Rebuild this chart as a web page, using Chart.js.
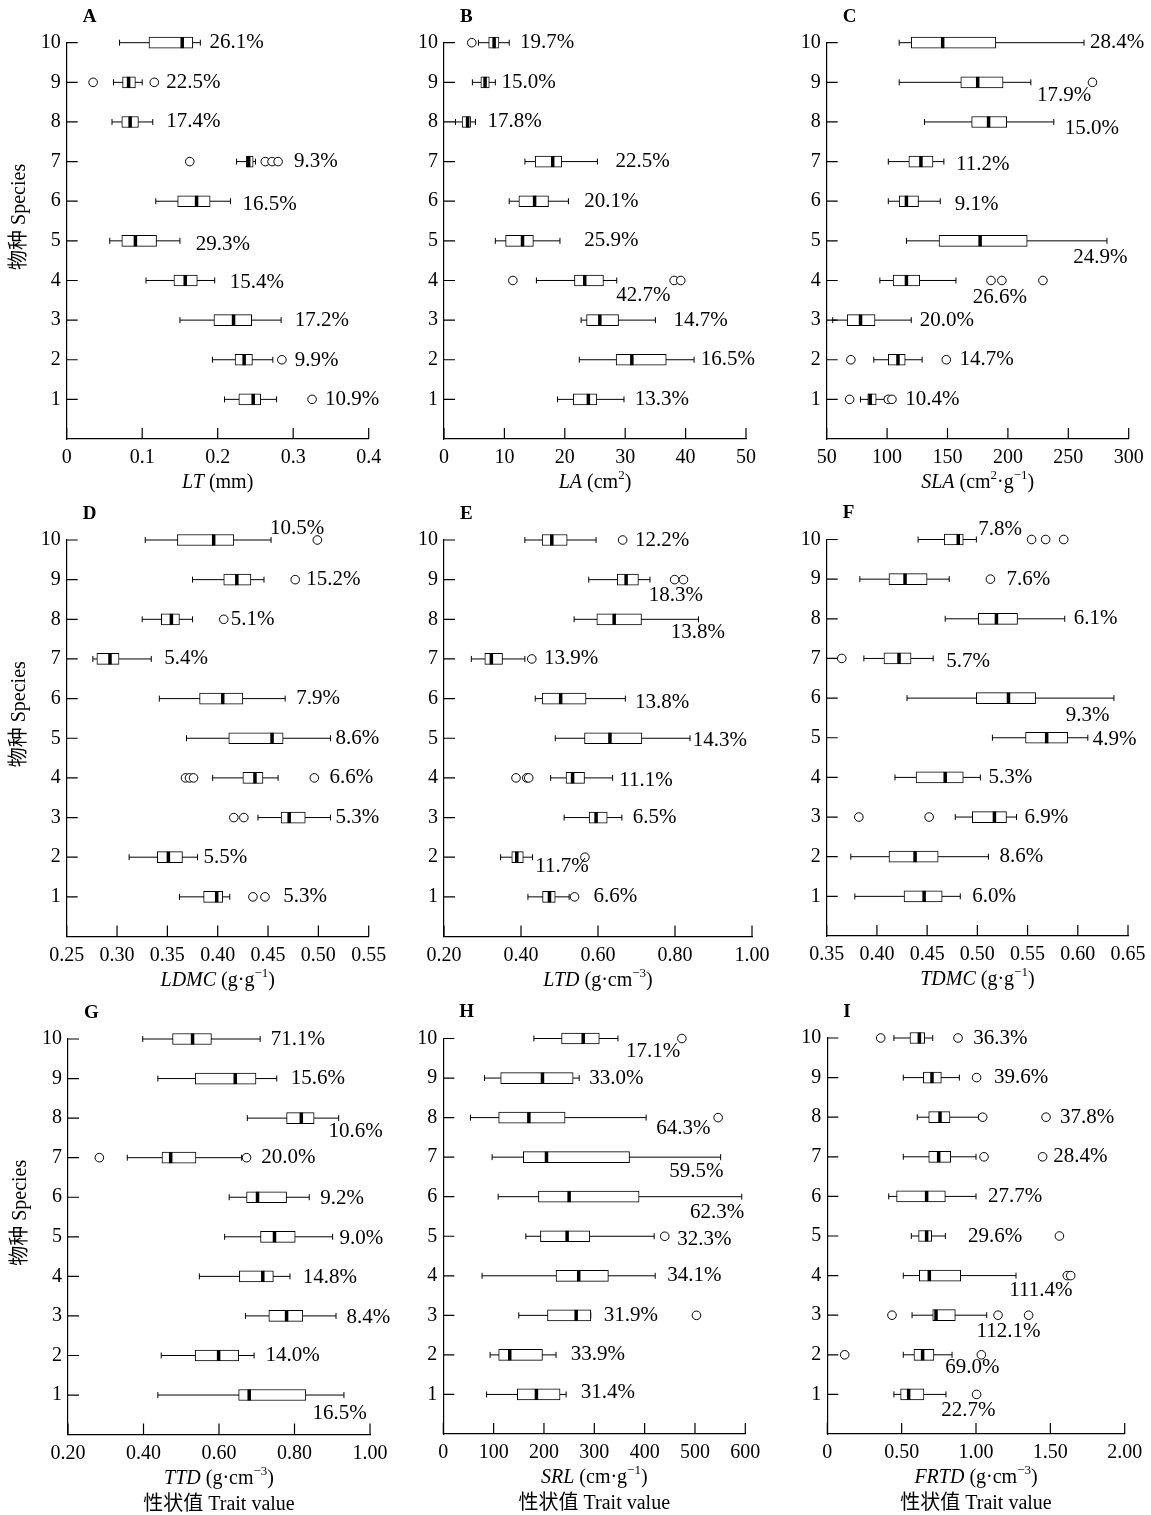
<!DOCTYPE html>
<html>
<head>
<meta charset="utf-8">
<script src="https://cdn.jsdelivr.net/npm/chart.js@4.4.0/dist/chart.umd.min.js"></script>
<style>
  html, body { margin: 0; padding: 0; background: #fff; }
  #wrap { position: relative; width: 1151px; height: 1515px; overflow: hidden; background: #fff; }
  #wrap canvas { position: absolute; }
</style>
</head>
<body>
<div id="wrap"></div>
<script>
// species rows, bottom (1) to top (10)
const species = ['1', '2', '3', '4', '5', '6', '7', '8', '9', '10'];
const rows = [1, 2, 3, 4, 5, 6, 7, 8, 9, 10];

// A: LT (mm)
const LT_lo = [0.209, 0.193, 0.150, 0.105, 0.057, 0.118, 0.225, 0.060, 0.062, 0.070];
const LT_q1 = [0.228, 0.223, 0.195, 0.142, 0.073, 0.147, 0.238, 0.073, 0.074, 0.109];
const LT_med = [0.247, 0.235, 0.221, 0.157, 0.091, 0.172, 0.241, 0.084, 0.082, 0.153];
const LT_q3 = [0.257, 0.246, 0.245, 0.173, 0.119, 0.190, 0.247, 0.095, 0.091, 0.167];
const LT_hi = [0.278, 0.273, 0.284, 0.196, 0.150, 0.217, 0.250, 0.114, 0.100, 0.177];
const LT_out = [[0.325], [0.285], [], [], [], [], [0.163, 0.263, 0.272, 0.280], [], [0.035, 0.116], []];
const LT_cv = ['10.9%', '9.9%', '17.2%', '15.4%', '29.3%', '16.5%', '9.3%', '17.4%', '22.5%', '26.1%'];
const LT_cvX = [0.342, 0.302, 0.302, 0.216, 0.171, 0.233, 0.301, 0.132, 0.132, 0.189];
const LT_cvY = [1, 1.97, 2.98, 3.96, 4.92, 5.92, 7, 8, 9, 10];
const LT_ticks = [0, 0.1, 0.2, 0.3, 0.4];
const LT_tickLabels = ['0', '0.1', '0.2', '0.3', '0.4'];

// B: LA (cm2)
const LA_lo = [18.8, 22.4, 22.7, 15.3, 8.5, 10.8, 13.4, 1.9, 4.7, 5.7];
const LA_q1 = [21.4, 28.5, 23.6, 21.6, 10.2, 12.4, 15.1, 3.0, 6.1, 7.4];
const LA_med = [23.9, 31.1, 25.8, 23.3, 13.0, 15.0, 18.0, 3.9, 6.8, 8.3];
const LA_q3 = [25.3, 36.8, 28.9, 26.4, 14.8, 17.3, 19.5, 4.4, 7.5, 9.1];
const LA_hi = [29.8, 41.4, 35.0, 28.6, 19.2, 20.6, 25.4, 5.2, 8.5, 10.8];
const LA_out = [[], [], [], [11.4, 38.1, 39.2], [], [], [], [], [], [4.6]];
const LA_cv = ['13.3%', '16.5%', '14.7%', '42.7%', '25.9%', '20.1%', '22.5%', '17.8%', '15.0%', '19.7%'];
const LA_cvX = [31.6, 42.5, 38.0, 28.5, 23.2, 23.2, 28.4, 7.2, 9.5, 12.6];
const LA_cvY = [1, 2, 3, 3.62, 5, 6, 7, 8, 9, 10];
const LA_ticks = [0, 10, 20, 30, 40, 50];
const LA_tickLabels = ['0', '10', '20', '30', '40', '50'];

// C: SLA (cm2 g-1)
const SLA_lo = [78, 89, 55, 94, 116, 101, 101, 131, 110, 110];
const SLA_q1 = [84, 101, 67, 105, 143, 110, 118, 170, 161, 120];
const SLA_med = [86, 109, 78, 116, 177, 116, 128, 184, 175, 146];
const SLA_q3 = [91, 115, 90, 127, 216, 126, 138, 199, 196, 190];
const SLA_hi = [98, 129, 120, 157, 282, 144, 147, 238, 219, 263];
const SLA_out = [[69, 101, 104], [70, 149], [], [186, 195, 229], [], [], [], [], [270], []];
const SLA_cv = ['10.4%', '14.7%', '20.0%', '26.6%', '24.9%', '9.1%', '11.2%', '15.0%', '17.9%', '28.4%'];
const SLA_cvX = [115, 160, 127, 171, 254, 156, 157, 247, 224, 268];
const SLA_cvY = [1, 2, 3, 3.56, 4.58, 5.92, 6.92, 7.83, 8.66, 10];
const SLA_ticks = [50, 100, 150, 200, 250, 300];
const SLA_tickLabels = ['50', '100', '150', '200', '250', '300'];

// D: LDMC (g g-1)
const LDMC_lo = [0.362, 0.312, 0.440, 0.395, 0.369, 0.342, 0.276, 0.325, 0.375, 0.328];
const LDMC_q1 = [0.386, 0.340, 0.463, 0.425, 0.411, 0.382, 0.280, 0.344, 0.406, 0.360];
const LDMC_med = [0.399, 0.351, 0.471, 0.437, 0.454, 0.405, 0.293, 0.354, 0.419, 0.396];
const LDMC_q3 = [0.405, 0.365, 0.487, 0.445, 0.465, 0.425, 0.302, 0.362, 0.433, 0.416];
const LDMC_hi = [0.412, 0.380, 0.512, 0.460, 0.512, 0.467, 0.334, 0.375, 0.446, 0.453];
const LDMC_out = [[0.435, 0.447], [], [0.416, 0.426], [0.368, 0.372, 0.376, 0.496], [], [], [], [0.406], [0.477], [0.499]];
const LDMC_cv = ['5.3%', '5.5%', '5.3%', '6.6%', '8.6%', '7.9%', '5.4%', '5.1%', '15.2%', '10.5%'];
const LDMC_cvX = [0.465, 0.386, 0.517, 0.511, 0.517, 0.478, 0.347, 0.413, 0.488, 0.452];
const LDMC_cvY = [1, 2, 3, 4, 5, 6, 7, 8, 9, 10.3];
const LDMC_ticks = [0.25, 0.30, 0.35, 0.40, 0.45, 0.50, 0.55];
const LDMC_tickLabels = ['0.25', '0.30', '0.35', '0.40', '0.45', '0.50', '0.55'];

// E: LTD (g cm-3)
const LTD_lo = [0.418, 0.347, 0.512, 0.477, 0.489, 0.437, 0.271, 0.538, 0.576, 0.410];
const LTD_q1 = [0.456, 0.376, 0.577, 0.517, 0.565, 0.455, 0.306, 0.597, 0.650, 0.455];
const LTD_med = [0.474, 0.389, 0.595, 0.534, 0.631, 0.503, 0.323, 0.642, 0.673, 0.480];
const LTD_q3 = [0.489, 0.406, 0.624, 0.565, 0.714, 0.569, 0.352, 0.713, 0.705, 0.520];
const LTD_hi = [0.525, 0.430, 0.662, 0.638, 0.839, 0.671, 0.410, 0.861, 0.735, 0.595];
const LTD_out = [[0.539], [0.566], [], [0.387, 0.415, 0.420], [], [], [0.428], [], [0.799, 0.822], [0.664]];
const LTD_cv = ['6.6%', '11.7%', '6.5%', '11.1%', '14.3%', '13.8%', '13.9%', '13.8%', '18.3%', '12.2%'];
const LTD_cvX = [0.588, 0.437, 0.690, 0.655, 0.846, 0.696, 0.460, 0.789, 0.732, 0.696];
const LTD_cvY = [1, 1.76, 3, 3.94, 4.95, 5.9, 7, 7.66, 8.6, 10];
const LTD_ticks = [0.2, 0.4, 0.6, 0.8, 1.0];
const LTD_tickLabels = ['0.20', '0.40', '0.60', '0.80', '1.00'];

// F: TDMC (g g-1)
const TDMC_lo = [0.378, 0.374, 0.478, 0.418, 0.515, 0.430, 0.387, 0.468, 0.383, 0.441];
const TDMC_q1 = [0.427, 0.412, 0.495, 0.439, 0.548, 0.499, 0.407, 0.501, 0.412, 0.467];
const TDMC_med = [0.447, 0.438, 0.517, 0.468, 0.569, 0.531, 0.422, 0.519, 0.428, 0.481];
const TDMC_q3 = [0.465, 0.461, 0.529, 0.486, 0.590, 0.558, 0.434, 0.540, 0.450, 0.486];
const TDMC_hi = [0.483, 0.511, 0.539, 0.503, 0.610, 0.636, 0.456, 0.587, 0.472, 0.499];
const TDMC_out = [[], [], [0.382, 0.452], [], [], [], [0.365], [], [0.513], [0.554, 0.568, 0.586]];
const TDMC_cv = ['6.0%', '8.6%', '6.9%', '5.3%', '4.9%', '9.3%', '5.7%', '6.1%', '7.6%', '7.8%'];
const TDMC_cvX = [0.495, 0.522, 0.547, 0.511, 0.615, 0.588, 0.469, 0.596, 0.529, 0.501];
const TDMC_cvY = [1, 2, 3, 4, 4.95, 5.57, 6.92, 8, 9, 10.25];
const TDMC_ticks = [0.35, 0.40, 0.45, 0.50, 0.55, 0.60, 0.65];
const TDMC_tickLabels = ['0.35', '0.40', '0.45', '0.50', '0.55', '0.60', '0.65'];

// G: TTD (g cm-3)
const TTD_lo = [0.438, 0.447, 0.670, 0.548, 0.615, 0.627, 0.357, 0.675, 0.438, 0.398];
const TTD_q1 = [0.652, 0.537, 0.732, 0.654, 0.710, 0.673, 0.449, 0.779, 0.537, 0.477];
const TTD_med = [0.680, 0.599, 0.779, 0.716, 0.747, 0.702, 0.472, 0.818, 0.643, 0.530];
const TTD_q3 = [0.830, 0.652, 0.822, 0.744, 0.802, 0.779, 0.539, 0.852, 0.698, 0.580];
const TTD_hi = [0.931, 0.693, 0.910, 0.788, 0.901, 0.839, 0.660, 0.917, 0.753, 0.709];
const TTD_out = [[], [], [], [], [], [], [0.283, 0.673], [], [], []];
const TTD_cv = ['16.5%', '14.0%', '8.4%', '14.8%', '9.0%', '9.2%', '20.0%', '10.6%', '15.6%', '71.1%'];
const TTD_cvX = [0.848, 0.723, 0.938, 0.822, 0.919, 0.868, 0.712, 0.890, 0.790, 0.737];
const TTD_cvY = [0.54, 2, 2.96, 3.96, 4.96, 5.96, 7, 7.66, 9, 10];
const TTD_ticks = [0.2, 0.4, 0.6, 0.8, 1.0];
const TTD_tickLabels = ['0.20', '0.40', '0.60', '0.80', '1.00'];

// H: SRL (cm g-1)
const SRL_lo = [86, 93, 150, 77, 164, 109, 97, 54, 82, 180];
const SRL_q1 = [147, 110, 207, 224, 193, 189, 159, 110, 114, 235];
const SRL_med = [185, 132, 264, 269, 246, 250, 205, 170, 197, 278];
const SRL_q3 = [232, 197, 293, 328, 291, 389, 370, 242, 258, 310];
const SRL_hi = [244, 224, 293, 421, 419, 593, 551, 403, 270, 347];
const SRL_out = [[], [], [503], [], [440], [], [], [546], [], [474]];
const SRL_cv = ['31.4%', '33.9%', '31.9%', '34.1%', '32.3%', '62.3%', '59.5%', '64.3%', '33.0%', '17.1%'];
const SRL_cvX = [273, 253, 319, 445, 465, 490, 449, 423, 290, 363];
const SRL_cvY = [1.04, 2, 3, 4, 4.92, 5.6, 6.64, 7.73, 9, 9.66];
const SRL_ticks = [0, 100, 200, 300, 400, 500, 600];
const SRL_tickLabels = ['0', '100', '200', '300', '400', '500', '600'];

// I: FRTD (g cm-3)
const FRTD_lo = [0.448, 0.511, 0.570, 0.511, 0.565, 0.413, 0.511, 0.605, 0.511, 0.448];
const FRTD_q1 = [0.493, 0.583, 0.709, 0.619, 0.614, 0.466, 0.682, 0.682, 0.646, 0.556];
const FRTD_med = [0.547, 0.641, 0.731, 0.686, 0.668, 0.668, 0.749, 0.758, 0.704, 0.619];
const FRTD_q3 = [0.650, 0.717, 0.861, 0.897, 0.702, 0.794, 0.830, 0.825, 0.767, 0.655];
const FRTD_hi = [0.798, 0.839, 1.072, 1.269, 0.794, 1.000, 1.000, 1.020, 0.888, 0.709];
const FRTD_out = [[1.004], [0.117, 1.036], [0.435, 1.148, 1.354], [1.614, 1.637], [1.561], [], [1.054, 1.448], [1.045, 1.471], [1.004], [0.359, 0.879]];
const FRTD_cv = ['22.7%', '69.0%', '112.1%', '111.4%', '29.6%', '27.7%', '28.4%', '37.8%', '39.6%', '36.3%'];
const FRTD_cvX = [0.767, 0.794, 1.004, 1.224, 0.946, 1.081, 1.52, 1.565, 1.121, 0.982];
const FRTD_cvY = [0.59, 1.69, 2.6, 3.62, 5, 6, 7, 8, 9, 10];
const FRTD_ticks = [0, 0.5, 1.0, 1.5, 2.0];
const FRTD_tickLabels = ['0', '0.50', '1.00', '1.50', '2.00'];

const INK = '#000';
const SERIF = '"Liberation Serif", "Times New Roman", "Noto Sans CJK SC", serif';

// layout of each panel: plot area edges in page pixels
const panels = [
  {letter: 'A', L: 66.7, R: 368.7, T: 42.7, B: 439, lo: LT_lo, q1: LT_q1, med: LT_med, q3: LT_q3, hi: LT_hi, out: LT_out,
   cv: LT_cv, cvX: LT_cvX, cvY: LT_cvY, ticks: LT_ticks, tickLabels: LT_tickLabels,
   title: [['LT', 'i'], [' (mm)', 'n']], yTitle: true},
  {letter: 'B', L: 444, R: 746, T: 42.7, B: 439, lo: LA_lo, q1: LA_q1, med: LA_med, q3: LA_q3, hi: LA_hi, out: LA_out,
   cv: LA_cv, cvX: LA_cvX, cvY: LA_cvY, ticks: LA_ticks, tickLabels: LA_tickLabels,
   title: [['LA', 'i'], [' (cm', 'n'], ['2', 's'], [')', 'n']]},
  {letter: 'C', L: 826.7, R: 1128.7, T: 42.7, B: 439, lo: SLA_lo, q1: SLA_q1, med: SLA_med, q3: SLA_q3, hi: SLA_hi, out: SLA_out,
   cv: SLA_cv, cvX: SLA_cvX, cvY: SLA_cvY, ticks: SLA_ticks, tickLabels: SLA_tickLabels,
   title: [['SLA', 'i'], [' (cm', 'n'], ['2', 's'], ['\u00b7g', 'n'], ['\u22121', 's'], [')', 'n']]},
  {letter: 'D', L: 66.7, R: 368.7, T: 540, B: 936.5, lo: LDMC_lo, q1: LDMC_q1, med: LDMC_med, q3: LDMC_q3, hi: LDMC_hi, out: LDMC_out,
   cv: LDMC_cv, cvX: LDMC_cvX, cvY: LDMC_cvY, ticks: LDMC_ticks, tickLabels: LDMC_tickLabels,
   title: [['LDMC', 'i'], [' (g\u00b7g', 'n'], ['\u22121', 's'], [')', 'n']], yTitle: true},
  {letter: 'E', L: 444, R: 752, T: 540, B: 936.5, lo: LTD_lo, q1: LTD_q1, med: LTD_med, q3: LTD_q3, hi: LTD_hi, out: LTD_out,
   cv: LTD_cv, cvX: LTD_cvX, cvY: LTD_cvY, ticks: LTD_ticks, tickLabels: LTD_tickLabels,
   title: [['LTD', 'i'], [' (g\u00b7cm', 'n'], ['\u22123', 's'], [')', 'n']]},
  {letter: 'F', L: 826.7, R: 1128, T: 539.5, B: 936, lo: TDMC_lo, q1: TDMC_q1, med: TDMC_med, q3: TDMC_q3, hi: TDMC_hi, out: TDMC_out,
   cv: TDMC_cv, cvX: TDMC_cvX, cvY: TDMC_cvY, ticks: TDMC_ticks, tickLabels: TDMC_tickLabels,
   title: [['TDMC', 'i'], [' (g\u00b7g', 'n'], ['\u22121', 's'], [')', 'n']]},
  {letter: 'G', L: 68, R: 370, T: 1039, B: 1434.6, lo: TTD_lo, q1: TTD_q1, med: TTD_med, q3: TTD_q3, hi: TTD_hi, out: TTD_out,
   cv: TTD_cv, cvX: TTD_cvX, cvY: TTD_cvY, ticks: TTD_ticks, tickLabels: TTD_tickLabels,
   title: [['TTD', 'i'], [' (g\u00b7cm', 'n'], ['\u22123', 's'], [')', 'n']], yTitle: true, bottom: true},
  {letter: 'H', L: 443.3, R: 745.3, T: 1038.5, B: 1434, lo: SRL_lo, q1: SRL_q1, med: SRL_med, q3: SRL_q3, hi: SRL_hi, out: SRL_out,
   cv: SRL_cv, cvX: SRL_cvX, cvY: SRL_cvY, ticks: SRL_ticks, tickLabels: SRL_tickLabels,
   title: [['SRL', 'i'], [' (cm\u00b7g', 'n'], ['\u22121', 's'], [')', 'n']], bottom: true},
  {letter: 'I', L: 827.3, R: 1124.7, T: 1038, B: 1434, lo: FRTD_lo, q1: FRTD_q1, med: FRTD_med, q3: FRTD_q3, hi: FRTD_hi, out: FRTD_out,
   cv: FRTD_cv, cvX: FRTD_cvX, cvY: FRTD_cvY, ticks: FRTD_ticks, tickLabels: FRTD_tickLabels,
   title: [['FRTD', 'i'], [' (g\u00b7cm', 'n'], ['\u22123', 's'], [')', 'n']], bottom: true},
];

function partFont(style) {
  if (style === 'i') return 'italic 20px ' + SERIF;
  if (style === 's') return '13px ' + SERIF;
  return '20px ' + SERIF;
}

// inward ticks, cv labels, titles and panel letters
function decoPlugin(p) {
  return {
    id: 'deco' + p.letter,
    afterDraw(chart) {
      const ctx = chart.ctx;
      const xs = chart.scales.x, ys = chart.scales.y;
      const ca = chart.chartArea;
      ctx.save();
      ctx.strokeStyle = INK;
      ctx.lineWidth = 1.2;
      ctx.beginPath();
      p.ticks.forEach(v => {
        const px = xs.getPixelForValue(v);
        ctx.moveTo(px, ca.bottom);
        ctx.lineTo(px, ca.bottom - 11);
      });
      rows.forEach(r => {
        const py = ys.getPixelForValue(r);
        ctx.moveTo(ca.left, py);
        ctx.lineTo(ca.left + 11, py);
      });
      ctx.stroke();

      ctx.fillStyle = INK;
      ctx.textBaseline = 'middle';
      ctx.textAlign = 'left';
      ctx.font = '21px ' + SERIF;
      p.cv.forEach((t, i) => {
        ctx.fillText(t, xs.getPixelForValue(p.cvX[i]), ys.getPixelForValue(p.cvY[i]));
      });

      // panel letter
      ctx.font = 'bold 19px ' + SERIF;
      ctx.fillText(p.letter, ca.left + 16, ca.top - 26);

      // x axis title with italic symbol and superscripts
      let total = 0;
      p.title.forEach(([t, s]) => { ctx.font = partFont(s); total += ctx.measureText(t).width; });
      let x = (ca.left + ca.right) / 2 - total / 2;
      const ty = ca.bottom + 44;
      p.title.forEach(([t, s]) => {
        ctx.font = partFont(s);
        ctx.fillText(t, x, s === 's' ? ty - 7 : ty);
        x += ctx.measureText(t).width;
      });

      ctx.font = '20px ' + SERIF;
      if (p.bottom) {
        ctx.textAlign = 'center';
        ctx.fillText('性状值 Trait value', (ca.left + ca.right) / 2, ca.bottom + 70);
      }
      if (p.yTitle) {
        ctx.translate(ca.left - 47, (ca.top + ca.bottom) / 2 - 24);
        ctx.rotate(-Math.PI / 2);
        ctx.textAlign = 'center';
        ctx.fillText('物种 Species', 0, 0);
      }
      ctx.restore();
    }
  };
}

const wrap = document.getElementById('wrap');

panels.forEach(p => {
  const x0 = Math.floor(p.L - 66), y0 = Math.floor(p.T - 45);
  const W = Math.ceil(p.R + 45) - x0, H = Math.ceil(p.B + 90) - y0;
  const canvas = document.createElement('canvas');
  canvas.width = W; canvas.height = H;
  canvas.style.left = x0 + 'px'; canvas.style.top = y0 + 'px';
  canvas.style.width = W + 'px'; canvas.style.height = H + 'px';
  wrap.appendChild(canvas);

  const yWidth = p.L - x0;
  const padTop = p.T - y0;
  const padRight = x0 + W - p.R;
  const xHeight = y0 + H - p.B;

  const whiskers = [];
  rows.forEach((r, i) => {
    whiskers.push({x: p.lo[i], y: r}, {x: p.hi[i], y: r}, {x: null, y: null});
  });
  const boxes = rows.map((r, i) => ({x: [p.q1[i], p.q3[i]], y: r}));
  const medians = rows.map((r, i) => ({x: p.med[i], y: r}));
  const outliers = [];
  rows.forEach((r, i) => p.out[i].forEach(v => outliers.push({x: v, y: r})));

  new Chart(canvas, {
    type: 'scatter',
    data: {
      datasets: [
        {type: 'scatter', label: 'outliers', data: outliers, order: 0, clip: false,
         pointStyle: 'circle', pointRadius: 4.3, pointBackgroundColor: '#fff',
         pointBorderColor: INK, pointBorderWidth: 1},
        {type: 'scatter', label: 'median', data: medians, order: 1, clip: false,
         pointStyle: 'line', pointRotation: 90, pointRadius: 5.5,
         pointBorderColor: INK, pointBorderWidth: 3.5},
        {type: 'bar', label: 'box', data: boxes, order: 2, indexAxis: 'y', clip: false,
         barThickness: 11, backgroundColor: '#fff', borderColor: INK,
         borderWidth: 1, borderSkipped: false},
        {type: 'line', label: 'whisker', data: whiskers, order: 3, clip: false,
         showLine: true, spanGaps: false, borderColor: INK, borderWidth: 1, fill: false,
         pointStyle: 'line', pointRotation: 90, pointRadius: 3,
         pointBorderColor: INK, pointBorderWidth: 1}
      ]
    },
    options: {
      responsive: false,
      animation: false,
      devicePixelRatio: 1,
      layout: {padding: {top: padTop, right: padRight, left: 0, bottom: 0}},
      plugins: {legend: {display: false}, tooltip: {enabled: false}},
      scales: {
        x: {
          type: 'linear',
          offset: false,
          min: p.ticks[0], max: p.ticks[p.ticks.length - 1],
          afterBuildTicks: s => { s.ticks = p.ticks.map(v => ({value: v})); },
          afterFit: s => { s.height = xHeight; },
          grid: {display: false, drawTicks: false, offset: false},
          border: {display: true, color: INK, width: 1.2},
          ticks: {
            autoSkip: false, maxRotation: 0, minRotation: 0, padding: 7,
            color: INK, font: {family: SERIF, size: 20},
            callback: (v, i) => p.tickLabels[i]
          }
        },
        y: {
          type: 'linear',
          offset: false,
          min: 0, max: 10,
          afterBuildTicks: s => { s.ticks = rows.map(v => ({value: v})); },
          afterFit: s => { s.width = yWidth; },
          grid: {display: false, drawTicks: false, offset: false},
          border: {display: true, color: INK, width: 1.2},
          ticks: {
            autoSkip: false, padding: 6,
            color: INK, font: {family: SERIF, size: 20},
            callback: v => species[v - 1]
          }
        }
      }
    },
    plugins: [decoPlugin(p)]
  });
});
</script>
</body>
</html>
